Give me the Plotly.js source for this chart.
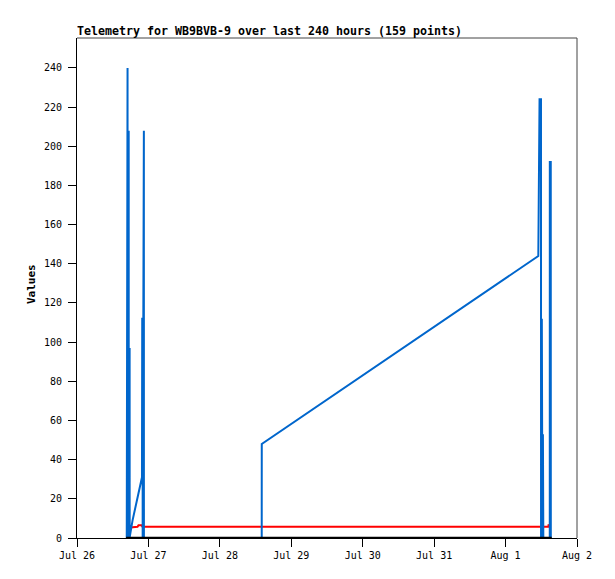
<!DOCTYPE html>
<html>
<head>
<meta charset="utf-8">
<script src="https://cdn.plot.ly/plotly-3.0.1.min.js"></script>
<style>html,body{margin:0;padding:0;background:#fff;}#chart{width:615px;height:579px;}</style>
</head>
<body>
<div id="chart"></div>
<script>
// ---- data ----
const blueTimes = [
  '2023-07-26 16:43','2023-07-26 16:44','2023-07-26 16:59','2023-07-26 17:00','2023-07-26 17:12','2023-07-26 17:22','2023-07-26 17:23',
  '2023-07-26 17:34','2023-07-26 17:41','2023-07-26 17:42',
  '2023-07-26 17:46','2023-07-26 18:40','2023-07-26 19:40','2023-07-26 20:40','2023-07-26 21:50',
  '2023-07-26 21:55','2023-07-26 22:03','2023-07-26 22:04','2023-07-26 22:17','2023-07-26 22:28','2023-07-26 22:29','2023-07-26 22:35',
  '2023-07-28 14:04','2023-07-28 14:05',
  '2023-08-01 11:00','2023-08-01 11:25','2023-08-01 11:54','2023-08-01 11:55',
  '2023-08-01 12:11','2023-08-01 12:23','2023-08-01 12:33','2023-08-01 12:41',
  '2023-08-01 14:51','2023-08-01 14:52','2023-08-01 15:11','2023-08-01 15:12'
];
const blueValues = [
  0, 240, 240, 0, 208, 208, 0,
  97, 97, 0,
  1, 9, 16, 23, 31,
  112, 112, 0, 208, 208, 0, 0,
  0, 48,
  144, 224, 224, 0,
  112, 0, 53, 0,
  0, 192, 192, 0
];
const redTimes = ['2023-07-26 17:48','2023-07-26 20:20','2023-07-26 20:40','2023-07-26 21:40','2023-07-26 22:00','2023-08-01 14:22','2023-08-01 14:30'];
const redValues = [5.4, 5.7, 6.5, 6.5, 5.8, 5.8, 7.0];
const blackTimes = ['2023-07-26 16:30','2023-08-01 15:30'];
const blackValues = [0, 0];
const xTickLabels = ['Jul 26','Jul 27','Jul 28','Jul 29','Jul 30','Jul 31','Aug 1','Aug 2'];
const xTickVals = ['2023-07-26','2023-07-27','2023-07-28','2023-07-29','2023-07-30','2023-07-31','2023-08-01','2023-08-02'];
const titleText = 'Telemetry for WB9BVB-9 over last 240 hours (159 points)';

const mono = 'DejaVu Sans Mono, monospace';
const traces = [
  {x: redTimes, y: redValues, type: 'scatter', mode: 'lines', line: {color: '#ff0000', width: 2}, hoverinfo: 'skip'},
  {x: blueTimes, y: blueValues, type: 'scatter', mode: 'lines', line: {color: '#0066cc', width: 2}, hoverinfo: 'skip'},
  {x: blackTimes, y: blackValues, type: 'scatter', mode: 'lines', line: {color: '#000000', width: 2.5}, hoverinfo: 'skip'}
];
const layout = {
  width: 615, height: 579,
  margin: {l: 77, r: 38, t: 38, b: 41},
  paper_bgcolor: '#ffffff', plot_bgcolor: '#ffffff',
  showlegend: false,
  font: {family: mono, size: 10, color: '#000'},
  title: {text: titleText, x: 77/615, xref: 'container', xanchor: 'left', y: 1 - 31/579, yref: 'container', yanchor: 'middle',
          font: {family: mono, size: 11.64, color: '#000', weight: 'bold'}},
  xaxis: {
    type: 'date', range: ['2023-07-26', '2023-08-02'],
    tickvals: xTickVals, ticktext: xTickLabels,
    ticks: 'outside', ticklen: 8, tickcolor: '#000', tickwidth: 1,
    showgrid: false, zeroline: false, showline: true, linecolor: '#000', linewidth: 1,
    tickfont: {family: mono, size: 10, color: '#000'}, fixedrange: true
  },
  yaxis: {
    range: [0, 255.3], tickvals: [0,20,40,60,80,100,120,140,160,180,200,220,240],
    ticks: 'outside', ticklen: 8, tickcolor: '#000', tickwidth: 1,
    showgrid: false, zeroline: false, showline: true, linecolor: '#000', linewidth: 1,
    tickfont: {family: mono, size: 10, color: '#000'}, ticklabelstandoff: 4, fixedrange: true
  },
  shapes: [
    {type: 'line', xref: 'paper', yref: 'paper', x0: 0, x1: 1, y0: 1, y1: 1, line: {color: '#444', width: 1}},
    {type: 'line', xref: 'paper', yref: 'paper', x0: 1, x1: 1, y0: 0, y1: 1, line: {color: '#444', width: 1}}
  ],
  annotations: [
    {text: 'Values', xref: 'paper', yref: 'paper', x: (31-77)/500, y: (538-284)/500, xanchor: 'center', yanchor: 'middle',
     textangle: -90, showarrow: false, font: {family: mono, size: 11, color: '#000', weight: 'bold'}}
  ]
};
Plotly.newPlot('chart', traces, layout, {displayModeBar: false, staticPlot: true});
</script>
</body>
</html>
